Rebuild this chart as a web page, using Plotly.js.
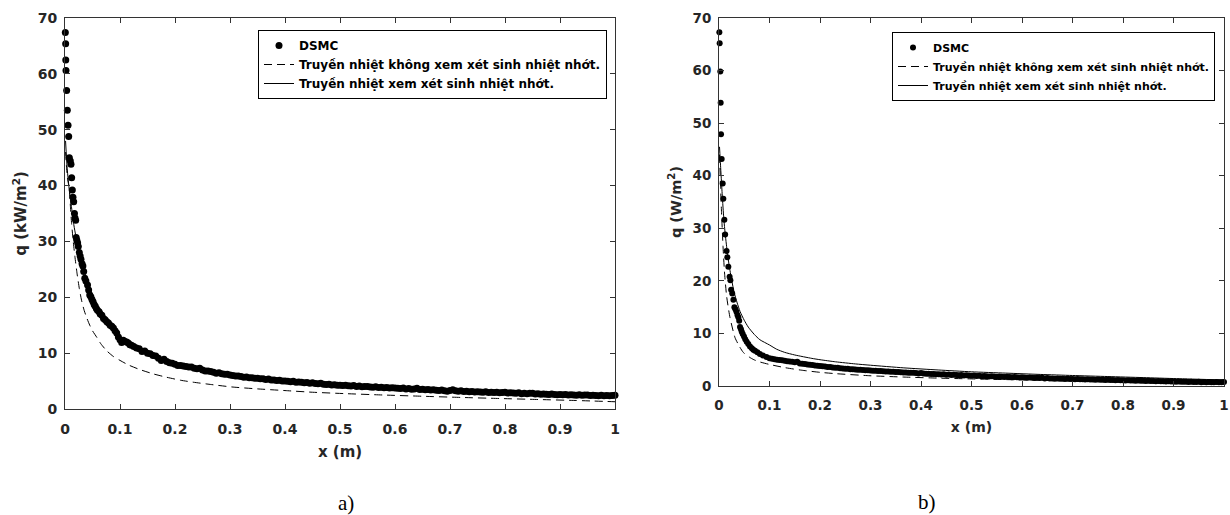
<!DOCTYPE html>
<html>
<head>
<meta charset="utf-8">
<script src="https://cdn.plot.ly/plotly-3.0.1.min.js"></script>
<style>html,body{margin:0;padding:0;background:#fff;}#chart{width:1230px;height:515px;}</style>
</head>
<body>
<div id="chart"></div>
<script>
// ---------- Panel a) (kW/m^2) ----------
const dsmcA_x = [0.0006,0.0012,0.0014,0.0018,0.003,0.0042,0.0055,0.0067,0.0079,0.0097,0.0109,0.0121,0.0133,0.0145,0.0158,0.0172,0.0182,0.0194,0.0203,0.0215,0.023,0.0242,0.026,0.0275,0.029,0.031,0.0325,0.034,0.036,0.038,0.041,0.043,0.045,0.047,0.049,0.051,0.053,0.055,0.057,0.059,0.062,0.064,0.067,0.070,0.073,0.076,0.079,0.082,0.085,0.088,0.091,0.094,0.097,0.100,0.103,0.106,0.109,0.112,0.115,0.118,0.121,
0.125,0.13,0.135,0.14,0.145,0.15,0.155,0.16,0.165,0.17,0.175,0.18,0.185,0.19,0.195,0.2,0.205,0.21,0.215,0.22,0.225,0.23,0.235,0.24,0.245,0.25,0.255,0.26,0.265,0.27,0.275,0.28,0.285,0.29,0.295,0.3,
0.305,0.31,0.315,0.32,0.325,0.33,0.335,0.34,0.345,0.35,0.355,0.36,0.365,0.37,0.375,0.38,0.385,0.39,0.395,0.4,0.405,0.41,0.415,0.42,0.425,0.43,0.435,0.44,0.445,0.45,0.455,0.46,0.465,0.47,0.475,0.48,0.485,0.49,0.495,0.5,
0.505,0.51,0.515,0.52,0.525,0.53,0.535,0.54,0.545,0.55,0.555,0.56,0.565,0.57,0.575,0.58,0.585,0.59,0.595,0.6,0.605,0.61,0.615,0.62,0.625,0.63,0.635,0.64,0.645,0.65,0.655,0.66,0.665,0.67,0.675,0.68,0.685,0.69,0.695,0.7,
0.705,0.71,0.715,0.72,0.725,0.73,0.735,0.74,0.745,0.75,0.755,0.76,0.765,0.77,0.775,0.78,0.785,0.79,0.795,0.8,0.805,0.81,0.815,0.82,0.825,0.83,0.835,0.84,0.845,0.85,0.855,0.86,0.865,0.87,0.875,0.88,0.885,0.89,0.895,0.9,
0.905,0.91,0.915,0.92,0.925,0.93,0.935,0.94,0.945,0.95,0.955,0.96,0.965,0.97,0.975,0.98,0.985,0.99,0.995,1.0];
const dsmcA_q = [67.4,65.4,62.5,60.6,57.0,53.5,50.8,48.8,45.0,44.4,43.8,41.4,39.2,37.9,37.1,35.0,34.2,33.8,30.7,30.2,29.7,29.1,28.0,27.4,26.8,26.0,25.6,24.6,23.4,22.9,22.2,21.3,20.4,20.1,19.6,19.2,18.7,18.4,18.0,17.7,17.4,17.0,16.8,16.2,16.0,15.6,15.4,15.0,14.8,14.5,14.0,13.6,12.9,12.4,11.9,12.3,12.1,12.0,11.8,11.5,11.4,
11.2,10.9,10.8,10.3,10.4,10.0,9.9,9.6,9.5,9.1,8.7,8.9,8.5,8.3,8.2,8.0,7.8,7.8,7.7,7.6,7.5,7.5,7.3,7.2,7.3,7.0,6.8,6.8,6.7,6.6,6.4,6.5,6.3,6.2,6.2,6.1,
6.0,5.9,5.9,5.8,5.7,5.75,5.6,5.6,5.5,5.5,5.4,5.4,5.3,5.35,5.2,5.2,5.1,5.15,5.0,5.0,4.95,4.9,4.95,4.8,4.85,4.8,4.7,4.75,4.6,4.7,4.55,4.5,4.6,4.45,4.4,4.45,4.3,4.35,4.25,4.25,
4.2,4.25,4.15,4.1,4.2,4.05,4.1,4.0,4.05,4.05,3.95,3.9,4.0,3.85,3.9,3.8,3.85,3.75,3.8,3.75,3.7,3.65,3.75,3.6,3.65,3.55,3.6,3.7,3.5,3.55,3.45,3.5,3.4,3.45,3.35,3.3,3.4,3.25,3.2,3.3,
3.45,3.25,3.2,3.25,3.15,3.2,3.1,3.15,3.05,3.1,3.05,3.0,3.1,2.95,3.0,2.95,3.0,2.9,2.95,3.0,2.85,2.9,2.85,2.8,2.9,2.75,2.8,2.75,2.8,2.8,2.7,2.75,2.65,2.7,2.65,2.6,2.7,2.6,2.55,2.6,
2.55,2.6,2.5,2.55,2.5,2.45,2.55,2.45,2.5,2.5,2.4,2.45,2.4,2.35,2.45,2.35,2.4,2.35,2.4,2.45];

const dashA_x = [0.001,0.003,0.005,0.0078,0.010,0.012,0.015,0.018,0.022,0.026,0.030,0.035,0.040,0.045,0.05,0.058,0.065,0.076,0.088,0.1,0.115,0.135,0.16,0.184,0.21,0.233,0.26,0.303,0.35,0.4,0.45,0.51,0.58,0.65,0.72,0.79,0.86,0.93,1.0];
const dashA_q = [46,43,41,39.5,36,33.2,30,27.3,24.2,21.6,19.5,17.6,16.2,15.0,14.0,12.8,11.7,10.4,9.4,8.7,7.9,7.1,6.3,5.7,5.15,4.8,4.45,3.95,3.6,3.3,3.0,2.75,2.5,2.28,2.07,1.88,1.7,1.52,1.3];

const solidA_x = [0.001,0.004,0.008,0.012,0.016,0.02,0.025,0.03,0.04,0.05,0.06,0.07,0.08,0.09,0.1,0.12,0.14,0.16,0.18,0.2,0.25,0.3,0.35,0.4,0.45,0.5,0.6,0.7,0.8,0.9,1.0];
const solidA_q = [48,43,39,36,33,30.8,28.5,26.5,23.0,20.5,18.3,16.6,15.2,14.0,13.0,11.5,10.4,9.5,8.7,8.0,6.9,6.0,5.4,4.95,4.6,4.25,3.7,3.3,2.95,2.65,2.4];

// ---------- Panel b) (W/m^2) ----------
const dsmcB_x = [0.0007,0.0013,0.0026,0.0033,0.0040,0.0053,0.0073,0.0086,0.0106,0.0122,0.0150,0.0165,0.0185,0.0210,0.0225,0.0240,0.0262,0.0285,0.0305,0.0325,0.0345,0.0365,0.0383,0.0400,0.0416,0.0435,0.0450,0.0470,0.0495,0.0520,0.0548,0.0580,0.0614,0.0650,0.0680,0.0713,0.0760,0.0810,0.0870,0.0940,0.100,
0.105,0.11,0.115,0.12,0.125,0.13,0.135,0.14,0.145,0.15,0.155,0.16,0.165,0.17,0.175,0.18,0.185,0.19,0.195,0.2,0.205,0.21,0.215,0.22,0.225,0.23,0.235,0.24,0.245,0.25,0.255,0.26,0.265,0.27,0.275,0.28,0.285,0.29,0.295,0.3,
0.305,0.31,0.315,0.32,0.325,0.33,0.335,0.34,0.345,0.35,0.355,0.36,0.365,0.37,0.375,0.38,0.385,0.39,0.395,0.4,0.405,0.41,0.415,0.42,0.425,0.43,0.435,0.44,0.445,0.45,0.455,0.46,0.465,0.47,0.475,0.48,0.485,0.49,0.495,0.5,
0.505,0.51,0.515,0.52,0.525,0.53,0.535,0.54,0.545,0.55,0.555,0.56,0.565,0.57,0.575,0.58,0.585,0.59,0.595,0.6,0.605,0.61,0.615,0.62,0.625,0.63,0.635,0.64,0.645,0.65,0.655,0.66,0.665,0.67,0.675,0.68,0.685,0.69,0.695,0.7,
0.705,0.71,0.715,0.72,0.725,0.73,0.735,0.74,0.745,0.75,0.755,0.76,0.765,0.77,0.775,0.78,0.785,0.79,0.795,0.8,0.805,0.81,0.815,0.82,0.825,0.83,0.835,0.84,0.845,0.85,0.855,0.86,0.865,0.87,0.875,0.88,0.885,0.89,0.895,0.9,
0.905,0.91,0.915,0.92,0.925,0.93,0.935,0.94,0.945,0.95,0.955,0.96,0.965,0.97,0.975,0.98,0.985,0.99,0.995,1.0];
const dsmcB_q = [67.3,65.2,59.8,53.9,47.9,43.2,38.5,35.6,31.6,28.8,25.7,24.5,22.7,20.8,20.1,18.3,17.6,16.4,15.0,14.6,14.1,13.5,13.1,12.4,11.2,10.8,10.3,9.9,9.4,8.9,8.4,8.0,7.5,7.2,6.9,6.7,6.4,6.1,5.8,5.5,5.3,
5.2,5.1,5.0,4.95,4.9,4.8,4.7,4.65,4.6,4.5,4.6,4.3,4.25,4.2,4.1,4.05,4.0,3.9,3.85,3.8,3.75,3.7,3.6,3.6,3.5,3.45,3.45,3.4,3.35,3.3,3.3,3.2,3.2,3.15,3.1,3.1,3.05,3.0,3.0,2.95,
2.9,2.9,2.85,2.85,2.8,2.75,2.75,2.7,2.7,2.65,2.65,2.6,2.55,2.55,2.5,2.5,2.5,2.45,2.4,2.45,2.4,2.35,2.35,2.3,2.3,2.25,2.25,2.2,2.25,2.15,2.2,2.1,2.15,2.1,2.05,2.1,2.0,2.05,2.0,1.95,
2.0,1.9,1.95,1.85,1.9,1.85,1.8,1.85,1.8,1.75,1.8,1.75,1.7,1.75,1.7,1.65,1.7,1.65,1.6,1.65,1.6,1.55,1.6,1.55,1.5,1.55,1.5,1.55,1.45,1.5,1.45,1.45,1.4,1.45,1.4,1.4,1.35,1.4,1.35,1.35,
1.3,1.35,1.3,1.3,1.25,1.3,1.25,1.25,1.2,1.25,1.2,1.2,1.15,1.2,1.15,1.15,1.1,1.15,1.1,1.1,1.05,1.1,1.05,1.05,1.0,1.05,1.0,1.0,0.95,1.0,0.95,0.95,0.9,0.95,0.9,0.9,0.85,0.9,0.85,0.85,
0.8,0.85,0.8,0.8,0.8,0.75,0.8,0.75,0.75,0.8,0.7,0.75,0.7,0.75,0.7,0.7,0.75,0.7,0.7,0.75];

const dashB_x = [0.001,0.003,0.005,0.008,0.011,0.0152,0.0218,0.0317,0.04,0.048,0.06,0.069,0.08,0.1,0.13,0.164,0.2,0.231,0.299,0.366,0.434,0.5,0.568,0.636,0.7,0.77,0.84,0.906,1.0];
const dashB_q = [44,38,33,26.5,21.5,17.0,13.0,9.2,7.6,6.4,5.5,5.0,4.6,4.1,3.5,3.0,2.6,2.35,1.95,1.7,1.5,1.35,1.22,1.12,1.03,0.95,0.87,0.8,0.7];

const solidB_x = [0.001,0.003,0.006,0.009,0.012,0.016,0.02,0.025,0.03,0.036,0.0416,0.05,0.058,0.07,0.081,0.1,0.114,0.13,0.15,0.184,0.2,0.231,0.27,0.3,0.366,0.434,0.5,0.568,0.636,0.7,0.77,0.84,0.906,1.0];
const solidB_q = [45.5,42,37,32.5,29.2,25.8,23.0,20.2,17.8,15.8,14.2,12.5,11.2,9.8,8.8,7.8,7.0,6.4,5.9,5.25,5.0,4.6,4.2,3.95,3.45,3.05,2.7,2.45,2.2,2.0,1.8,1.6,1.4,1.15];

const legendNames = ['DSMC', 'Truyền nhiệt không xem xét sinh nhiệt nhớt.', 'Truyền nhiệt xem xét sinh nhiệt nhớt.'];
const xTitle = 'x (m)';
const yTitleA = 'q (kW/m<sup>2</sup>)';
const yTitleB = 'q (W/m<sup>2</sup>)';
const captions = ['a)', 'b)'];

const FONT = 'DejaVu Sans, Arial, sans-serif';
const INK = '#000000';

function traces(xd, yd, xs, ys, xl, yl, xa, ya, leg, msize) {
  return [
    {x: xd, y: yd, type: 'scatter', mode: 'markers', name: legendNames[0], xaxis: xa, yaxis: ya, legend: leg,
     marker: {color: INK, size: msize}, cliponaxis: false},
    {x: xs, y: ys, type: 'scatter', mode: 'lines', name: legendNames[1], xaxis: xa, yaxis: ya, legend: leg,
     line: {color: INK, width: 1, dash: '8px,5px', shape: 'spline', smoothing: 0.6}},
    {x: xl, y: yl, type: 'scatter', mode: 'lines', name: legendNames[2], xaxis: xa, yaxis: ya, legend: leg,
     line: {color: INK, width: 1, shape: 'spline', smoothing: 0.6}}
  ];
}

const data = [].concat(
  traces(dsmcA_x, dsmcA_q, dashA_x, dashA_q, solidA_x, solidA_q, 'x', 'y', 'legend', 7),
  traces(dsmcB_x, dsmcB_q, dashB_x, dashB_q, solidB_x, solidB_q, 'x2', 'y2', 'legend2', 6)
);

function xax(domain, anchor, fs, tfs, standoff) {
  return {domain: domain, anchor: anchor, range: [0, 1], tick0: 0, dtick: 0.1, ticks: 'inside', ticklen: 5,
    tickcolor: '#333', tickwidth: 1, showline: true, linecolor: '#333', linewidth: 1, mirror: 'ticks',
    zeroline: false, showgrid: false, ticklabelstandoff: 7,
    tickfont: {family: FONT, size: fs, color: '#262626', weight: 'bold'},
    title: {text: xTitle, standoff: standoff, font: {family: FONT, size: tfs, color: '#262626', weight: 'bold'}}};
}
function yax(domain, anchor, text, fs, tfs) {
  return {domain: domain, anchor: anchor, range: [0, 70], tick0: 0, dtick: 10, ticks: 'inside', ticklen: 5,
    tickcolor: '#333', tickwidth: 1, showline: true, linecolor: '#333', linewidth: 1, mirror: 'ticks',
    zeroline: false, showgrid: false, ticklabelstandoff: 4,
    tickfont: {family: FONT, size: fs, color: '#262626', weight: 'bold'},
    title: {text: text, standoff: 7, font: {family: FONT, size: tfs, color: '#262626', weight: 'bold'}}};
}

const layout = {
  width: 1230, height: 515,
  margin: {l: 0, r: 0, t: 0, b: 0},
  paper_bgcolor: '#fff', plot_bgcolor: '#fff',
  showlegend: true,
  xaxis: xax([65/1230, 615/1230], 'y', 14, 15, 10),
  yaxis: yax([(515-409)/515, (515-18)/515], 'x', yTitleA, 14, 15),
  xaxis2: xax([719/1230, 1224/1230], 'y2', 13.5, 14, 9),
  yaxis2: yax([(515-386)/515, (515-18)/515], 'x2', yTitleB, 13.5, 14.5),
  legend: {x: 607/1230, xanchor: 'right', y: 1 - 30/515, yanchor: 'top', bgcolor: '#fff', bordercolor: '#000', borderwidth: 1,
    font: {family: FONT, size: 12, color: '#000', weight: 'bold'}, tracegroupgap: 0},
  legend2: {x: 1215/1230, xanchor: 'right', y: 1 - 32/515, yanchor: 'top', bgcolor: '#fff', bordercolor: '#000', borderwidth: 1,
    font: {family: FONT, size: 11, color: '#000', weight: 'bold'}, tracegroupgap: 0},
  annotations: [
    {text: captions[0], xref: 'paper', yref: 'paper', x: 346/1230, y: 1 - 503/515, xanchor: 'center', yanchor: 'middle', showarrow: false,
     font: {family: 'Liberation Serif, Times New Roman, serif', size: 21, color: '#000'}},
    {text: captions[1], xref: 'paper', yref: 'paper', x: 927/1230, y: 1 - 502/515, xanchor: 'center', yanchor: 'middle', showarrow: false,
     font: {family: 'Liberation Serif, Times New Roman, serif', size: 21, color: '#000'}}
  ]
};

Plotly.newPlot('chart', data, layout, {staticPlot: true, displayModeBar: false});
</script>
</body>
</html>
